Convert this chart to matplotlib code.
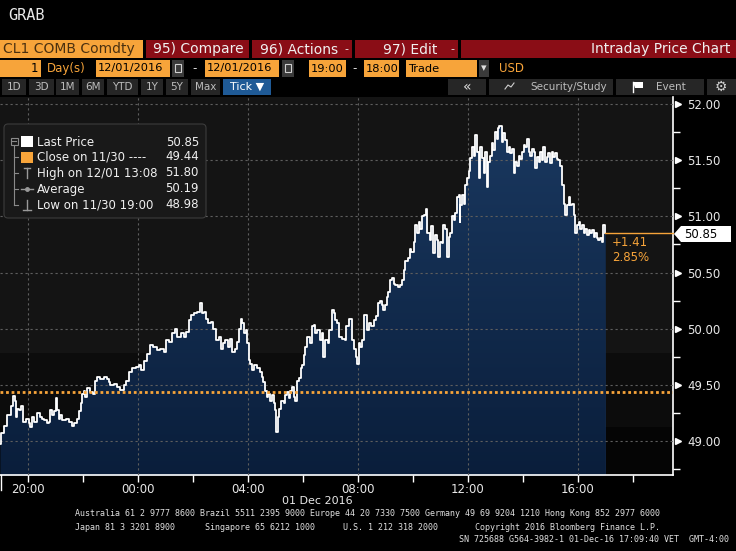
import numpy as np
import matplotlib
matplotlib.use('Agg')
import matplotlib.pyplot as plt
from matplotlib.patches import Rectangle, FancyBboxPatch, Polygon
from matplotlib.colors import LinearSegmentedColormap

# CL1 intraday ticks, minutes after 19:00 on 11/30
minutes = [0, 2, 7, 15, 22, 28, 31, 33, 36, 40, 45, 50, 55, 62, 65, 69, 73, 80, 86, 91,
           94, 102, 105, 109, 113, 116, 122, 124, 127, 131, 135, 142, 149, 156, 161, 167, 171, 175, 178, 182,
           185, 189, 196, 202, 207, 211, 218, 225, 233, 236, 240, 247, 255, 262, 269, 275, 280, 287, 295, 302,
           307, 313, 320, 326,
           334, 342, 349, 356, 362, 367, 375, 380, 386, 393, 400, 406, 411, 415, 422, 429, 436, 440, 444, 449,
           454, 460, 465, 471, 476, 482, 486, 491, 496, 502, 506, 511, 516, 520, 524, 527, 531, 535, 538, 542,
           545, 549, 554, 560, 566, 571, 574, 578, 582, 585, 589, 593, 596, 600, 602, 605, 609, 612, 618, 622,
           626, 629, 633, 636, 640, 644, 647, 651, 655, 658, 662,
           665, 670, 676, 680, 684, 687, 691, 697, 702, 705, 709, 714, 718, 724, 727, 731, 735, 740, 746, 751,
           755, 760, 764, 767, 771, 775, 778, 782, 785, 789, 794, 799, 804, 809, 815, 820, 825, 829, 833, 836,
           840, 844, 847, 851, 855, 858, 862, 867, 873, 876, 880, 884, 889, 893, 897, 902, 905, 909, 913, 916,
           921, 925, 929, 932, 937, 940, 944, 948, 953, 956, 960, 964, 967, 971, 975, 978, 982, 985, 989, 993,
           996, 1000,
           1002, 1004, 1007, 1011, 1015, 1018, 1022, 1025, 1029, 1033, 1036, 1040, 1044, 1047, 1051, 1055, 1058, 1062, 1065, 1069,
           1073, 1076, 1080, 1084, 1086, 1088, 1095, 1098, 1102, 1105, 1109, 1113, 1116, 1120, 1124, 1127, 1131, 1135, 1138, 1142,
           1145, 1149, 1153, 1156, 1160, 1164, 1167, 1171, 1175, 1178, 1182, 1185, 1189, 1193, 1196, 1200, 1204, 1207, 1211, 1215,
           1218, 1222, 1225, 1229, 1233, 1236, 1240, 1244, 1247, 1251, 1255, 1258, 1262, 1265, 1269, 1273, 1276, 1280, 1284, 1287,
           1291, 1295, 1298, 1302, 1305, 1309, 1313, 1316, 1320]
price = [48.98, 49.07, 49.14, 49.23, 49.31, 49.40, 49.36, 49.22, 49.29, 49.28, 49.31, 49.17, 49.20, 49.16, 49.13, 49.22, 49.17, 49.25, 49.22, 49.20,
         49.19, 49.16, 49.17, 49.28, 49.23, 49.27, 49.38, 49.28, 49.20, 49.23, 49.19, 49.20, 49.17, 49.14, 49.16, 49.20, 49.27, 49.34, 49.42, 49.45,
         49.39, 49.47, 49.44, 49.42, 49.54, 49.57, 49.55, 49.57, 49.55, 49.53, 49.50, 49.51, 49.48, 49.46, 49.50, 49.54, 49.62, 49.65, 49.66, 49.68,
         49.63, 49.71, 49.78, 49.86,
         49.84, 49.81, 49.82, 49.79, 49.90, 49.88, 49.96, 50.00, 49.93, 49.96, 49.93, 49.97, 50.08, 50.12, 50.14, 50.15, 50.23, 50.14, 50.15, 50.09,
         50.05, 50.06, 50.00, 49.90, 49.93, 49.82, 49.87, 49.90, 49.84, 49.91, 49.79, 49.82, 49.88, 50.00, 50.09, 50.05, 49.96, 49.99, 49.87, 49.72,
         49.69, 49.63, 49.68, 49.65, 49.62, 49.57, 49.53, 49.45, 49.39, 49.42, 49.36, 49.41, 49.34, 49.28, 49.08, 49.22, 49.29, 49.36, 49.34, 49.41,
         49.44, 49.38, 49.45, 49.48, 49.39, 49.36, 49.54, 49.56, 49.65, 49.68, 49.77,
         49.84, 49.93, 49.87, 50.02, 50.03, 49.96, 49.99, 49.90, 49.96, 49.75, 49.90, 49.87, 49.99, 50.17, 50.14, 50.08, 50.05, 49.93, 49.91, 49.90,
         50.02, 50.09, 50.09, 49.90, 49.82, 49.75, 49.69, 49.87, 49.84, 49.90, 50.12, 49.99, 50.05, 50.02, 50.08, 50.11, 50.23, 50.25, 50.21, 50.17,
         50.21, 50.28, 50.33, 50.43, 50.45, 50.40, 50.39, 50.37, 50.39, 50.43, 50.52, 50.60, 50.63, 50.71, 50.68, 50.77, 50.92, 50.85, 50.95, 50.89,
         51.00, 51.01, 51.06, 50.85, 50.79, 50.91, 50.67, 50.83, 50.79, 50.64, 50.77, 50.76, 50.92, 50.89, 50.64, 50.82, 50.85, 51.00, 50.97, 51.03,
         51.17, 51.19,
         50.95, 51.10, 51.19, 51.11, 51.28, 51.34, 51.40, 51.52, 51.62, 51.54, 51.72, 51.57, 51.34, 51.62, 51.52, 51.38, 51.57, 51.26, 51.48, 51.54,
         51.65, 51.59, 51.75, 51.69, 51.78, 51.80, 51.66, 51.74, 51.68, 51.57, 51.62, 51.56, 51.60, 51.38, 51.48, 51.45, 51.54, 51.51, 51.57, 51.63,
         51.62, 51.69, 51.57, 51.54, 51.60, 51.57, 51.43, 51.53, 51.48, 51.57, 51.50, 51.62, 51.48, 51.53, 51.56, 51.47, 51.57, 51.53, 51.56, 51.51,
         51.50, 51.45, 51.28, 51.11, 51.01, 51.10, 51.17, 51.10, 51.11, 51.01, 50.85, 50.92, 50.95, 50.89, 50.92, 50.85, 50.89, 50.83, 50.88, 50.85,
         50.88, 50.82, 50.85, 50.81, 50.79, 50.81, 50.77, 50.92, 50.85]

prev_close = 49.44
last_price = 50.85
net_chg = '+1.41'
pct_chg = '2.85%'
band_hi, band_lo = 49.78, 49.13

x_ticks = [60, 300, 540, 780, 1020, 1260]
x_labels = ['20:00', '00:00', '04:00', '08:00', '12:00', '16:00']
y_ticks = [49.0, 49.5, 50.0, 50.5, 51.0, 51.5, 52.0]

legend_rows = [('Last Price', '50.85'),
               ('Close on 11/30 ----', '49.44'),
               ('High on 12/01 13:08', '51.80'),
               ('Average', '50.19'),
               ('Low on 11/30 19:00', '48.98')]

footer1 = ('Australia 61 2 9777 8600 Brazil 5511 2395 9000 Europe 44 20 7330 7500 '
           'Germany 49 69 9204 1210 Hong Kong 852 2977 6000')
footer2 = [('Japan 81 3 3201 8900', 75), ('Singapore 65 6212 1000', 205),
           ('U.S. 1 212 318 2000', 343), ('Copyright 2016 Bloomberg Finance L.P.', 475)]
footer3 = 'SN 725688 G564-3982-1 01-Dec-16 17:09:40 VET  GMT-4:00'

ORANGE = '#f7a43a'
RED = '#8a0d16'
BTN = '#262626'
W, H = 736, 551
XMIN, XMAX = -1, 1468
YMIN, YMAX = 48.70, 52.06

fig = plt.figure(figsize=(W / 100, H / 100), dpi=100, facecolor='black')
ax = fig.add_axes([0, (H - 475) / H, 673 / W, (475 - 97) / H])
ax.set_facecolor('#141414')

ax.axhspan(band_hi, YMAX, color='#141414', lw=0, zorder=0)
ax.axhspan(band_lo, band_hi, color='#0c0c0c', lw=0, zorder=0)
ax.axhspan(YMIN, band_lo, color='#050505', lw=0, zorder=0)

fb = ax.fill_between(minutes, price, YMIN, step='post', color='#12305a', lw=0, zorder=1)
grad = np.linspace(0, 1, 256).reshape(-1, 1)
cm = LinearSegmentedColormap.from_list('navy', ['#0a1e3b', '#1b3a62'])
im = ax.imshow(grad, extent=[minutes[0], minutes[-1], YMIN, YMAX], origin='lower',
               aspect='auto', cmap=cm, zorder=1.2)
im.set_clip_path(fb.get_paths()[0], transform=ax.transData)

for y in y_ticks:
    ax.axhline(y, color='#5e5e5e', lw=0.8, ls=(0, (2, 2.5)), zorder=3)
for x in x_ticks:
    ax.axvline(x, color='#5e5e5e', lw=0.8, ls=(0, (2, 2.5)), zorder=3)

ax.step(minutes, price, where='post', color='white', lw=1.3, zorder=4)
ax.axhline(prev_close, color=ORANGE, lw=2, ls=(0, (1, 1)), zorder=5)
ax.plot([minutes[-1], XMAX], [last_price, last_price], color=ORANGE, lw=1, zorder=5, clip_on=False)
ax.text(minutes[-1] + 15, 50.77, net_chg, color=ORANGE, fontsize=8.5, va='center', zorder=6)
ax.text(minutes[-1] + 15, 50.63, pct_chg, color=ORANGE, fontsize=8.5, va='center', zorder=6)

ax.set_xlim(XMIN, XMAX)
ax.set_ylim(YMIN, YMAX)

ax.yaxis.tick_right()
ax.set_yticks(y_ticks, [f'{v:.2f}' for v in y_ticks])
ax.set_yticks([v + 0.25 for v in y_ticks[:-1]] + [48.75], minor=True)
ax.tick_params(axis='y', which='major', length=0, pad=10, labelcolor='#e8e8e8', labelsize=8.5)
ax.tick_params(axis='y', which='minor', length=5, color='white', width=1)
ax.plot([1.0 + 5 / 673] * len(y_ticks), y_ticks, marker='>', ms=5, color='white', ls='none',
        transform=ax.get_yaxis_transform(), clip_on=False, zorder=6)

ax.set_xticks(x_ticks, x_labels)
ax.set_xticks([t + 120 for t in x_ticks], minor=True)
ax.tick_params(axis='x', which='both', length=5, color='white', width=1,
               labelcolor='#e8e8e8', labelsize=8.5, pad=0.5)

for s in ['left', 'top']:
    ax.spines[s].set_visible(False)
for s in ['right', 'bottom']:
    ax.spines[s].set_color('white')
    ax.spines[s].set_linewidth(1.2)

# overlay in pixel coordinates for the terminal chrome
ov = fig.add_axes([0, 0, 1, 1], zorder=5)
ov.set_xlim(0, W)
ov.set_ylim(H, 0)
ov.axis('off')
ov.patch.set_alpha(0)


def box(x0, y0, x1, y1, fc, ec='none', lw=0.8):
    ov.add_patch(Rectangle((x0, y0), x1 - x0, y1 - y0, fc=fc, ec=ec, lw=lw))


def txt(x, y, s, color='#eeeeee', size=10, ha='left', family='DejaVu Sans'):
    ov.text(x, y, s, color=color, fontsize=size, ha=ha, va='center', family=family)


txt(8, 15, 'GRAB', '#e8e8e8', 11, family='DejaVu Sans Mono')

# row 1
box(0, 40, 143, 58, ORANGE)
txt(3, 49.5, 'CL1 COMB Comdty', '#4a3010', 10)
box(146, 40, 249, 58, RED)
txt(153, 49.5, '95) Compare', '#f0f0f0', 10)
box(252, 40, 352, 58, RED)
txt(260, 49.5, '96) Actions', '#f0f0f0', 10)
txt(344, 49.5, '-', '#f0f0f0', 8)
box(355, 40, 458, 58, RED)
txt(383, 49.5, '97) Edit', '#f0f0f0', 10)
txt(450, 49.5, '-', '#f0f0f0', 8)
box(461, 40, W, 58, RED)
txt(730, 49.5, 'Intraday Price Chart', '#f0f0f0', 10, ha='right')

# row 2
box(0, 60, 41, 77, ORANGE)
txt(38, 68.5, '1', 'black', 8.5, ha='right')
txt(47, 68.5, 'Day(s)', ORANGE, 8.5)
for x0, x1, label in [(96, 170, '12/01/2016'), (205, 279, '12/01/2016'), (309, 346, '19:00'),
                      (364, 399, '18:00'), (406, 477, 'Trade')]:
    box(x0, 60, x1, 77, ORANGE)
    txt(x0 + 2, 68.5, label, 'black', 8.2)
for x0 in [172, 282]:
    box(x0, 60, x0 + 12, 77, '#3a3a3a')
    box(x0 + 3, 64, x0 + 9, 72, 'none', ec='#d0d0d0', lw=0.8)
txt(195, 68.5, '-', '#e0e0e0', 8.5, ha='center')
txt(355, 68.5, '-', '#e0e0e0', 8.5, ha='center')
box(479, 60, 489, 77, '#3a3a3a')
txt(484, 68.5, '▾', '#e0e0e0', 8, ha='center')
txt(499, 68.5, 'USD', ORANGE, 8.5)

# row 3
for label, x0, x1 in [('1D', 2, 26), ('3D', 29, 54), ('1M', 56, 79), ('6M', 82, 104), ('YTD', 107, 138),
                      ('1Y', 141, 163), ('5Y', 166, 188), ('Max', 191, 220)]:
    box(x0, 79, x1, 95, BTN)
    txt((x0 + x1) / 2, 87, label, '#bdbdbd', 7.5, ha='center')
box(223, 79, 271, 95, '#1f5a96')
txt(247, 87, 'Tick ▼', 'white', 8, ha='center')
box(448, 79, 486, 95, BTN)
txt(467, 87, '«', '#e0e0e0', 10, ha='center')
box(489, 79, 613, 95, BTN)
ov.plot([505, 508, 511, 514], [89, 85, 87, 83], color='#d0d0d0', lw=0.8)
txt(530, 87, 'Security/Study', '#bdbdbd', 7.5)
box(616, 79, 704, 95, BTN)
ov.add_patch(Polygon([(633, 82), (643, 82), (643, 88), (635, 88)], fc='white', ec='none'))
ov.plot([633, 633], [82, 92], color='white', lw=1)
txt(656, 87, 'Event', '#bdbdbd', 7.5)
box(707, 79, W, 95, BTN)
txt(721, 87, '⚙', '#d0d0d0', 10, ha='center')

# legend
ov.add_patch(FancyBboxPatch((4, 124), 202, 94, boxstyle='round,pad=0,rounding_size=4',
                            fc='#191919', ec='#3c3c3c', lw=0.8))
rows_y = [142, 157, 173, 189, 205]
ov.plot([14, 14], [146, 205], color='#8a8a8a', lw=0.8)
for y in rows_y[1:]:
    ov.plot([14, 18], [y, y], color='#8a8a8a', lw=0.8)
box(10.5, 137.5, 17.5, 144.5, 'none', ec='#8a8a8a')
ov.plot([12, 16], [141, 141], color='#8a8a8a', lw=0.8)
box(21, 136, 33, 147, 'white')
box(21, 152, 33, 163, ORANGE)
ov.plot([27, 27], [168, 178], color='#9a9a9a', lw=1)
ov.plot([24, 30], [168, 168], color='#9a9a9a', lw=1)
ov.plot([21, 33], [189, 189], color='#9a9a9a', lw=1)
ov.plot([27], [189], marker='o', ms=2.5, color='#9a9a9a')
ov.plot([27, 27], [200, 210], color='#9a9a9a', lw=1)
ov.plot([23, 31], [210, 210], color='#9a9a9a', lw=1)
for (label, val), y in zip(legend_rows, rows_y):
    txt(37, y, label, '#f0f0f0', 8.5)
    txt(199, y, val, '#f0f0f0', 8.5, ha='right')

# last price tag
ov.add_patch(Polygon([(674, 234), (681, 226), (731, 226), (731, 242), (681, 242)], fc='white', ec='none'))
txt(684, 234, '50.85', 'black', 8.5)

# x axis extras and footer
ov.plot([0.5, 0.5], [475, 490], color='white', lw=1)
txt(317, 501, '01 Dec 2016', '#e8e8e8', 8, ha='center')
txt(75, 514, footer1, '#e0e0e0', 6, family='DejaVu Sans Mono')
for s, x in footer2:
    txt(x, 527, s, '#e0e0e0', 6, family='DejaVu Sans Mono')
txt(729, 540, footer3, '#e0e0e0', 6, ha='right', family='DejaVu Sans Mono')

fig.savefig('out.png', dpi=100, facecolor='black')
